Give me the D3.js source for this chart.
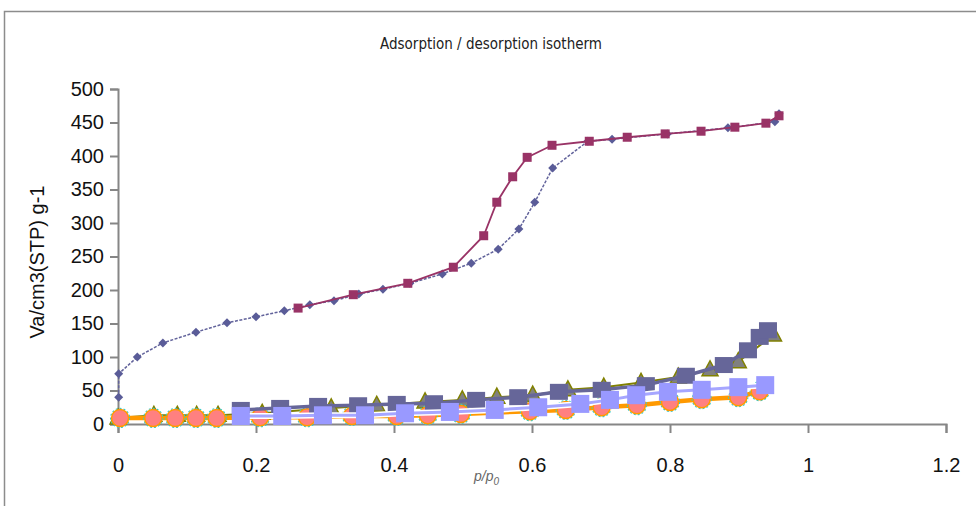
<!DOCTYPE html>
<html>
<head>
<meta charset="utf-8">
<script src="https://cdn.jsdelivr.net/npm/d3@7"></script>
<style>
  body { margin: 0; background: #fff; }
  #chart { width: 976px; height: 506px; }
</style>
</head>
<body>
<div id="chart"></div>
<script>
// adsorption branch (blue diamonds)
var adsX = [0.001, 0.001, 0.028, 0.065, 0.113, 0.158, 0.2, 0.241, 0.278, 0.313, 0.349, 0.384, 0.423, 0.47, 0.512, 0.551, 0.581, 0.604, 0.63, 0.681, 0.716, 0.796, 0.884, 0.952, 0.958];
var adsY = [40, 75, 100, 121, 137, 151, 160, 169, 178, 184, 194, 201, 210, 224, 240, 261, 291, 331, 382, 422, 425, 433, 442, 451, 463];

// desorption branch (maroon squares)
var desX = [0.958, 0.939, 0.894, 0.845, 0.793, 0.738, 0.683, 0.629, 0.593, 0.572, 0.549, 0.53, 0.486, 0.42, 0.341, 0.261];
var desY = [460, 449, 443, 437, 433, 428, 422, 416, 398, 369, 331, 281, 234, 210, 193, 173];

// lower samples
var triX = [0, 0.052, 0.086, 0.114, 0.145, 0.209, 0.309, 0.375, 0.445, 0.499, 0.549, 0.601, 0.652, 0.704, 0.758, 0.812, 0.858, 0.899, 0.95];
var triY = [9, 13, 13, 13, 13, 16, 24, 28, 33, 36, 40, 43, 51, 55, 62, 70, 81, 93, 133];

var circX = [0.003, 0.051, 0.083, 0.113, 0.143, 0.206, 0.274, 0.339, 0.404, 0.449, 0.497, 0.597, 0.649, 0.701, 0.752, 0.8, 0.846, 0.899, 0.93];
var circY = [9, 9, 9, 9, 9, 10, 10, 12, 12, 13, 15, 19, 21, 25, 28, 33, 37, 40, 49];

var darkX = [0.178, 0.235, 0.29, 0.348, 0.404, 0.458, 0.519, 0.58, 0.639, 0.701, 0.765, 0.823, 0.878, 0.913, 0.93, 0.942];
var darkY = [21, 24, 27, 28, 30, 31, 36, 40, 48, 51, 58, 72, 88, 110, 130, 140];

var lightX = [0.178, 0.238, 0.297, 0.358, 0.416, 0.481, 0.546, 0.609, 0.67, 0.713, 0.751, 0.797, 0.846, 0.899, 0.938];
var lightY = [12, 12, 13, 13, 16, 18, 21, 25, 30, 36, 43, 48, 51, 55, 58];

var xTicks = [0, 0.2, 0.4, 0.6, 0.8, 1, 1.2];
var yTicks = [0, 50, 100, 150, 200, 250, 300, 350, 400, 450, 500];

function pts(xs, ys) {
  return xs.map(function(v, i) { return {x: v, y: ys[i]}; });
}

var width = 976, height = 506;

var svg = d3.select("#chart").append("svg")
  .attr("width", width)
  .attr("height", height);

// chart area border
svg.append("rect")
  .attr("x", 4.5).attr("y", 11.5)
  .attr("width", 990).attr("height", 520)
  .attr("fill", "none")
  .attr("stroke", "#8c8c8c")
  .attr("stroke-width", 1.5);

var x = d3.scaleLinear().domain([0, 1.2]).range([118, 946]);
var y = d3.scaleLinear().domain([0, 500]).range([424, 89]);

// title
svg.append("text")
  .attr("x", 491).attr("y", 49)
  .attr("text-anchor", "middle")
  .style("font-family", "'Liberation Sans Narrow', 'DejaVu Sans Condensed', sans-serif")
  .style("font-size", "15px")
  .style("fill", "#222")
  .text("Adsorption / desorption isotherm");

// axes
var yAxis = svg.append("g")
  .attr("transform", "translate(" + x(0) + ",0)")
  .call(d3.axisLeft(y).tickValues(yTicks).tickSize(8).tickPadding(6).tickFormat(d3.format("d")));

var xAxis = svg.append("g")
  .attr("transform", "translate(0," + y(0) + ")")
  .call(d3.axisBottom(x).tickValues(xTicks).tickSize(9).tickPadding(25).tickFormat(function(d) { return d3.format("~g")(d); }));

[xAxis, yAxis].forEach(function(a) {
  a.select(".domain").attr("stroke", "#868686").attr("stroke-width", 2);
  a.selectAll(".tick line").attr("stroke", "#868686").attr("stroke-width", 2);
  a.selectAll("text")
    .style("font-family", "'Liberation Sans', Arial, sans-serif")
    .style("font-size", "20px")
    .attr("fill", "#111");
});

// axis titles
svg.append("text")
  .attr("transform", "translate(44,262) rotate(-90)")
  .attr("text-anchor", "middle")
  .style("font-family", "'Liberation Sans', Arial, sans-serif")
  .style("font-size", "20px")
  .style("fill", "#111")
  .text("Va/cm3(STP) g-1");

var xl = svg.append("text")
  .attr("x", 474).attr("y", 481)
  .style("font-family", "'Liberation Sans', Arial, sans-serif")
  .style("font-size", "14px")
  .style("font-style", "italic")
  .style("fill", "#666");
xl.append("tspan").text("p/p");
xl.append("tspan").attr("dy", 4).style("font-size", "10px").text("0");

var line = d3.line().x(function(d) { return x(d.x); }).y(function(d) { return y(d.y); });
var plot = svg.append("g");

// triangles (grey, olive outline)
var tri = pts(triX, triY);
plot.append("path").datum(tri).attr("d", line)
  .attr("fill", "none").attr("stroke", "#808000").attr("stroke-width", 2);
plot.selectAll(".tri").data(tri).enter().append("path")
  .attr("class", "tri")
  .attr("transform", function(d) { return "translate(" + x(d.x) + "," + y(d.y) + ")"; })
  .attr("d", "M0,-9L8,6L-8,6Z")
  .attr("fill", "#808080").attr("stroke", "#808000").attr("stroke-width", 1.5);

// circles (salmon with orange line)
var circ = pts(circX, circY);
plot.append("path").datum(circ).attr("d", line)
  .attr("fill", "none").attr("stroke", "#FF9900").attr("stroke-width", 4.5);
plot.selectAll(".ring").data(circ).enter().append("circle")
  .attr("cx", function(d) { return x(d.x); })
  .attr("cy", function(d) { return y(d.y); })
  .attr("r", 9.5)
  .attr("fill", "none").attr("stroke", "#33CCCC").attr("stroke-width", 1.2)
  .attr("stroke-dasharray", "2,2");
plot.selectAll(".circ").data(circ).enter().append("circle")
  .attr("cx", function(d) { return x(d.x); })
  .attr("cy", function(d) { return y(d.y); })
  .attr("r", 8.5)
  .attr("fill", "#FF8080").attr("stroke", "#FF9900").attr("stroke-width", 1.5);

// dark slate squares
var dark = pts(darkX, darkY);
plot.append("path").datum(dark).attr("d", line)
  .attr("fill", "none").attr("stroke", "#666699").attr("stroke-width", 3.5);
plot.selectAll(".dark").data(dark).enter().append("rect")
  .attr("x", function(d) { return x(d.x) - 9; })
  .attr("y", function(d) { return y(d.y) - 8; })
  .attr("width", 18).attr("height", 16)
  .attr("fill", "#666699");

// light periwinkle squares
var light = pts(lightX, lightY);
plot.append("path").datum(light).attr("d", line)
  .attr("fill", "none").attr("stroke", "#fff").attr("stroke-width", 6);
plot.append("path").datum(light).attr("d", line)
  .attr("fill", "none").attr("stroke", "#A6A6FF").attr("stroke-width", 3);
plot.selectAll(".light").data(light).enter().append("rect")
  .attr("x", function(d) { return x(d.x) - 9; })
  .attr("y", function(d) { return y(d.y) - 9; })
  .attr("width", 18).attr("height", 18)
  .attr("fill", "#9999FF");

// adsorption (diamonds, dashed)
var ads = pts(adsX, adsY);
plot.append("path").datum(ads).attr("d", line)
  .attr("fill", "none").attr("stroke", "#62639B").attr("stroke-width", 1.5)
  .attr("stroke-dasharray", "3,1.5");
plot.selectAll(".dia").data(ads).enter().append("path")
  .attr("transform", function(d) { return "translate(" + x(d.x) + "," + y(d.y) + ")"; })
  .attr("d", "M0,-4.5L4.5,0L0,4.5L-4.5,0Z")
  .attr("fill", "#5A5C98");

// desorption (maroon squares)
var des = pts(desX, desY);
plot.append("path").datum(des).attr("d", line)
  .attr("fill", "none").attr("stroke", "#993366").attr("stroke-width", 1.8);
plot.selectAll(".des").data(des).enter().append("rect")
  .attr("x", function(d) { return x(d.x) - 4.5; })
  .attr("y", function(d) { return y(d.y) - 4.5; })
  .attr("width", 9).attr("height", 9)
  .attr("fill", "#993366");
</script>
</body>
</html>
